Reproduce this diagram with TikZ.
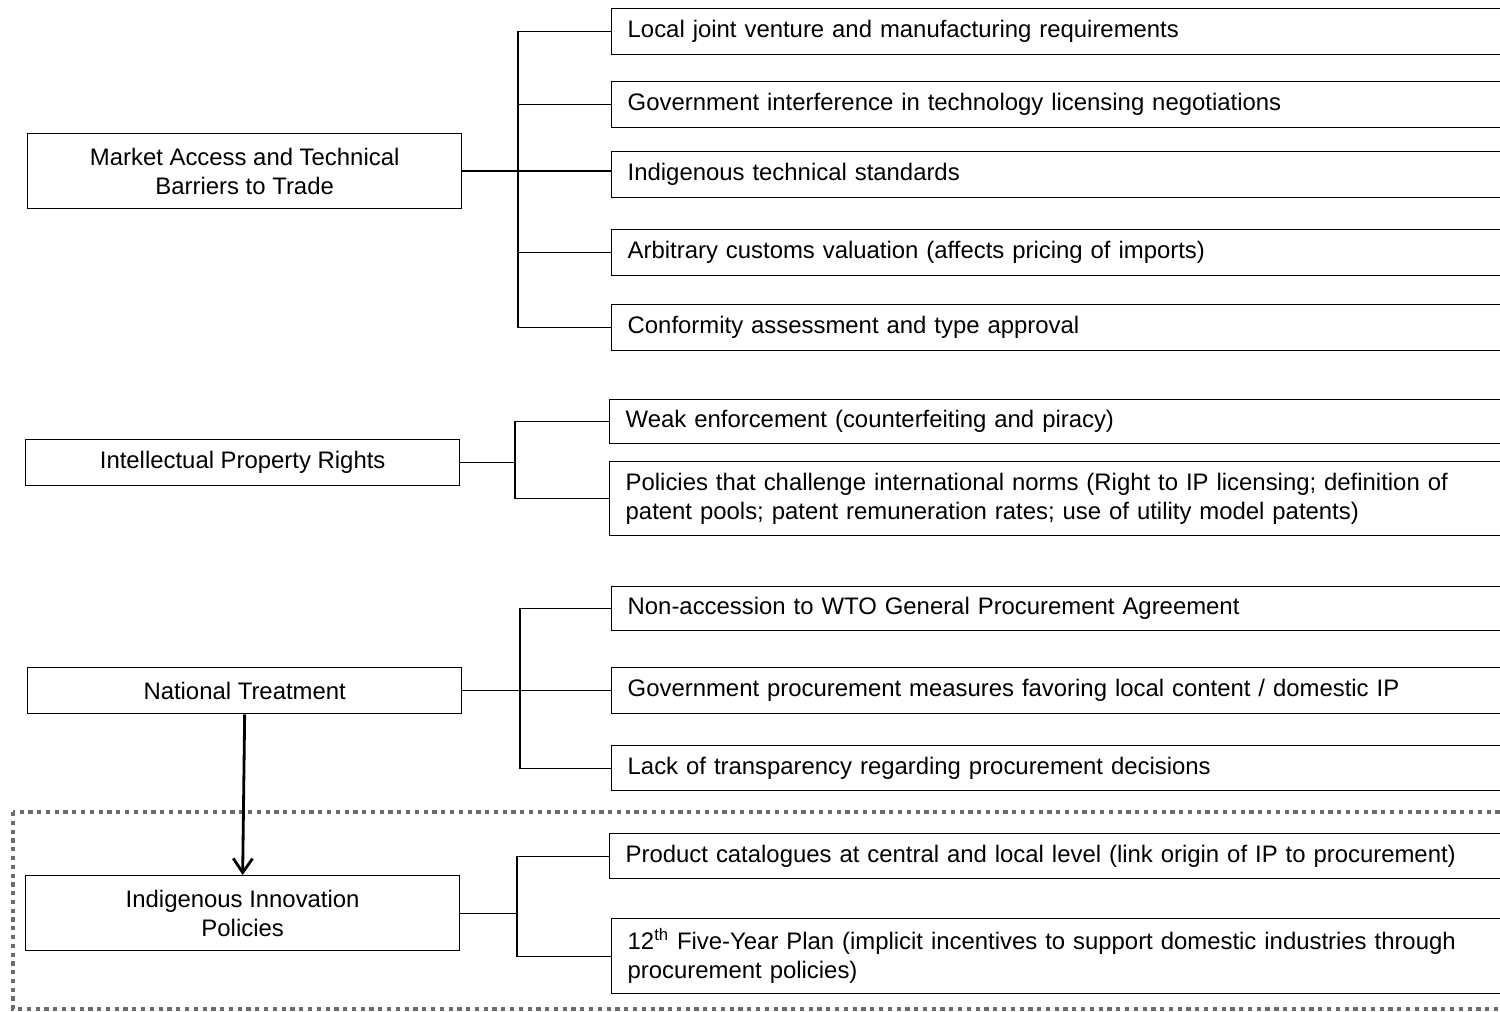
\documentclass[tikz,border=0pt]{standalone}
\usepackage{fontspec}
\setmainfont{Liberation Sans}
\usetikzlibrary{arrows.meta}
\begin{document}
\begin{tikzpicture}[x=0.02cm, y=-0.02cm,
	every node/.append style={font=\fontsize{13.6}{16.4}\selectfont},
	topic/.style={draw, line width=0.8pt, minimum width=8.68cm, minimum height=0.92cm, align=center, inner sep=0pt, anchor=north west},
	item/.style={draw, line width=0.8pt, anchor=north west, text width=17.5cm, inner xsep=0.32cm, inner ysep=0pt, minimum height=0.92cm, align=left},
	link/.style={line width=0.8pt}]
	\clip (0,0) rectangle (1500,1011);
	
	% dotted frame round the last group
	\draw[color=black!58, line width=2pt, dash pattern=on 2.4pt off 2.6pt] (13,812) rectangle (1530,1009);
	
	% left column
	\node[topic, minimum height=1.5cm] (mkt) at (27,133) {Market Access and Technical\\Barriers to Trade};
	\node[topic] (ipr) at (25,439) {Intellectual Property Rights};
	\node[topic] (nat) at (27,667) {National Treatment};
	\node[topic, minimum height=1.5cm] (ind) at (25,875) {Indigenous Innovation\\Policies};
	
	% right column
	\node[item] (m1) at (611,8) {Local joint venture and manufacturing requirements};
	\node[item] (m2) at (611,81) {Government interference in technology licensing negotiations};
	\node[item] (m3) at (611,151) {Indigenous technical standards};
	\node[item] (m4) at (611,229) {Arbitrary customs valuation (affects pricing of imports)};
	\node[item] (m5) at (611,304) {Conformity assessment and type approval};
	
	\node[item, minimum height=0.88cm] (p1) at (609,399) {Weak enforcement (counterfeiting and piracy)};
	\node[item, minimum height=1.48cm] (p2) at (609,461) {Policies that challenge international norms (Right to IP licensing; definition of\\patent pools; patent remuneration rates; use of utility model patents)};
	
	\node[item, minimum height=0.88cm] (n1) at (611,586) {Non-accession to WTO General Procurement Agreement};
	\node[item] (n2) at (611,667) {Government procurement measures favoring local content / domestic IP};
	\node[item, minimum height=0.9cm] (n3) at (611,745) {Lack of transparency regarding procurement decisions};
	
	\node[item, minimum height=0.9cm] (i1) at (609,833) {Product catalogues at central and local level (link origin of IP to procurement)};
	\node[item, minimum height=1.5cm] (i2) at (611,918) {12\textsuperscript{th} Five-Year Plan (implicit incentives to support domestic industries through\\procurement policies)};
	
	% buses
	\coordinate (b1) at (518,0);
	\coordinate (b2) at (515,0);
	\coordinate (b3) at (520,0);
	\coordinate (b4) at (517,0);
	
	\draw[link] (mkt.east) -- (mkt.east -| m3.west);
	\draw[link] (m1.west) -- (m1.west -| b1) -- (m5.west -| b1) -- (m5.west);
	\draw[link] (m2.west) -- (m2.west -| b1);
	\draw[link] (m4.west) -- (m4.west -| b1);
	
	\draw[link] (ipr.east) -- (ipr.east -| b2);
	\draw[link] (p1.west) -- (p1.west -| b2) -- (p2.west -| b2) -- (p2.west);
	
	\draw[link] (nat.east) -- (nat.east -| n2.west);
	\draw[link] (n1.west) -- (n1.west -| b3) -- (n3.west -| b3) -- (n3.west);
	
	\draw[link] (ind.east) -- (ind.east -| b4);
	\draw[link] (i1.west) -- (i1.west -| b4) -- (i2.west -| b4) -- (i2.west);
	
	\draw[line width=1.6pt, -{Straight Barb[length=8pt, width=11pt]}] (nat.south) -- (ind.north);
\end{tikzpicture}
\end{document}
